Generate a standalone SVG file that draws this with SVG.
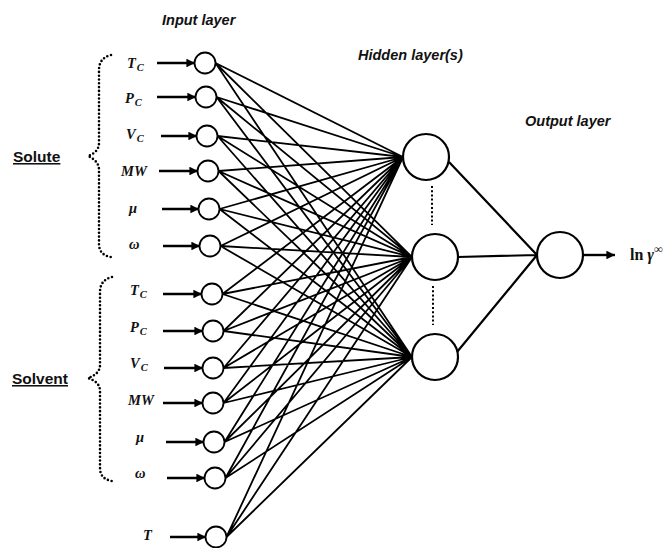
<svg xmlns="http://www.w3.org/2000/svg" width="663" height="548" viewBox="0 0 663 548">
<defs>
<marker id="ah" viewBox="0 0 10 10" refX="10" refY="5" markerWidth="3.6" markerHeight="3.6" orient="auto" markerUnits="strokeWidth"><path d="M0,0 L10,5 L0,10 z" fill="#000"/></marker>
<style>
.n{fill:#fff;stroke:#000;stroke-width:1.8}
.c{stroke:#000;stroke-width:1.8;fill:none}
.a{stroke:#000;stroke-width:2.4;fill:none;marker-end:url(#ah)}
.dot{stroke:#000;stroke-width:2.6;fill:none;stroke-dasharray:0 3.8;stroke-linecap:round}
.vd{stroke:#000;stroke-width:2;fill:none;stroke-dasharray:2 2.2}
.h{font-family:"Liberation Sans",Arial,sans-serif;font-weight:bold;font-style:italic;font-size:14.5px;fill:#111}
.g{font-family:"Liberation Sans",Arial,sans-serif;font-weight:bold;font-size:15.5px;text-decoration:underline;fill:#111}
.v{font-family:"Liberation Serif","Times New Roman",serif;font-weight:bold;font-style:italic;font-size:14.5px;fill:#111}
.s{font-size:10.5px}
.o{font-family:"Liberation Serif","Times New Roman",serif;font-weight:bold;font-size:16px;fill:#111}
</style>
</defs>
<rect width="663" height="548" fill="#fff"/>

<g id="titles">
<text class="h" x="162" y="25">Input layer</text>
<text class="h" x="358" y="60">Hidden layer(s)</text>
<text class="h" x="525" y="126">Output layer</text>
</g>

<g id="groups">
<text class="g" x="13" y="162">Solute</text>
<text class="g" x="12" y="384">Solvent</text>
<path class="dot" d="M111,55 Q99,58 99,70 L99,143 Q99,152 88,156 Q99,161 99,170 L99,244 Q99,255 111,257"/>
<path class="dot" d="M112,277 Q100,280 100,292 L100,365 Q100,374 88,378 Q100,382 100,391 L100,468 Q100,479 112,481"/>
</g>

<g id="connectors">
<path class="c" d="M215.5,63 L403,157 M215.5,63 L412,257 M215.5,63 L412,357
M216.5,97 L403,157 M216.5,97 L412,257 M216.5,97 L412,357
M217.5,136 L403,157 M217.5,136 L412,257 M217.5,136 L412,357
M218.5,171 L403,157 M218.5,171 L412,257 M218.5,171 L412,357
M219.5,209 L403,157 M219.5,209 L412,257 M219.5,209 L412,357
M220.5,246 L403,157 M220.5,246 L412,257 M220.5,246 L412,357
M222.5,294 L403,157 M222.5,294 L412,257 M222.5,294 L412,357
M223.5,331 L403,157 M223.5,331 L412,257 M223.5,331 L412,357
M223.5,368 L403,157 M223.5,368 L412,257 M223.5,368 L412,357
M223.5,403 L403,157 M223.5,403 L412,257 M223.5,403 L412,357
M224.5,442 L403,157 M224.5,442 L412,257 M224.5,442 L412,357
M225.5,478 L403,157 M225.5,478 L412,257 M225.5,478 L412,357
M226.5,537 L403,157 M226.5,537 L412,257 M226.5,537 L412,357"/>
<path class="c" d="M449,162 L537,255 M458,257 L537,255 M457,352 L537,255" style="stroke-width:2.2"/>
<path class="vd" d="M432,186 L432,225 M433,286 L433,325"/>
<path class="a" d="M157,63 L195,63"/>
<path class="a" d="M157,97 L196,97"/>
<path class="a" d="M161,136 L197,136"/>
<path class="a" d="M159,171 L198,171"/>
<path class="a" d="M162,209 L199,209"/>
<path class="a" d="M163,246 L200,246"/>
<path class="a" d="M163,294 L202,294"/>
<path class="a" d="M163,331 L203,331"/>
<path class="a" d="M164,368 L203,368"/>
<path class="a" d="M163,403 L203,403"/>
<path class="a" d="M166,442 L204,442"/>
<path class="a" d="M167,478 L205,478"/>
<path class="a" d="M170,537 L206,537"/>
<path class="a" d="M583,255 L615,255"/>
</g>

<g id="inputs">
<g id="in-solute-Tc"><circle class="n" cx="205" cy="63" r="10.5"/><text class="v" x="127" y="68">T<tspan class="s" dx="1" dy="3">C</tspan></text></g>
<g id="in-solute-Pc"><circle class="n" cx="206" cy="97" r="10.5"/><text class="v" x="125" y="103">P<tspan class="s" dx="1" dy="3">C</tspan></text></g>
<g id="in-solute-Vc"><circle class="n" cx="207" cy="136" r="10.5"/><text class="v" x="126" y="139">V<tspan class="s" dx="1" dy="3">C</tspan></text></g>
<g id="in-solute-MW"><circle class="n" cx="208" cy="171" r="10.5"/><text class="v" x="121" y="176">MW</text></g>
<g id="in-solute-mu"><circle class="n" cx="209" cy="209" r="10.5"/><text class="v" x="129" y="213">μ</text></g>
<g id="in-solute-omega"><circle class="n" cx="210" cy="246" r="10.5"/><text class="v" x="129" y="249">ω</text></g>
<g id="in-solvent-Tc"><circle class="n" cx="212" cy="294" r="10.5"/><text class="v" x="130" y="295">T<tspan class="s" dx="1" dy="3">C</tspan></text></g>
<g id="in-solvent-Pc"><circle class="n" cx="213" cy="331" r="10.5"/><text class="v" x="130" y="332">P<tspan class="s" dx="1" dy="3">C</tspan></text></g>
<g id="in-solvent-Vc"><circle class="n" cx="213" cy="368" r="10.5"/><text class="v" x="130" y="368">V<tspan class="s" dx="1" dy="3">C</tspan></text></g>
<g id="in-solvent-MW"><circle class="n" cx="213" cy="403" r="10.5"/><text class="v" x="128" y="405">MW</text></g>
<g id="in-solvent-mu"><circle class="n" cx="214" cy="442" r="10.5"/><text class="v" x="136" y="442">μ</text></g>
<g id="in-solvent-omega"><circle class="n" cx="215" cy="478" r="10.5"/><text class="v" x="135" y="478">ω</text></g>
<g id="in-T"><circle class="n" cx="216" cy="537" r="10.5"/><text class="v" x="143" y="540">T</text></g>
</g>

<g id="hidden">
<g id="h1"><circle class="n" cx="426" cy="157" r="23" style="stroke-width:2.2"/></g>
<g id="h2"><circle class="n" cx="435" cy="257" r="23" style="stroke-width:2.2"/></g>
<g id="h3"><circle class="n" cx="435" cy="357" r="23" style="stroke-width:2.2"/></g>
</g>

<g id="output">
<circle class="n" cx="560" cy="255" r="23" style="stroke-width:2.2"/>
<text class="o" x="630" y="260">ln <tspan font-style="italic">γ</tspan><tspan font-size="12" dy="-7">∞</tspan></text>
</g>
</svg>
